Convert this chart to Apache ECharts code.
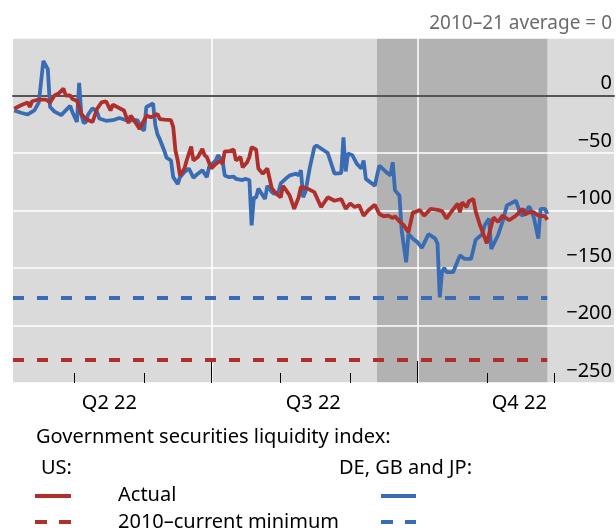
<!DOCTYPE html>
<html>
<head>
<meta charset="utf-8">
<script src="https://cdn.jsdelivr.net/npm/echarts@6/dist/echarts.min.js"></script>
<style>
  html, body { margin: 0; padding: 0; background: #fff; }
  #chart { width: 616px; height: 530px; }
</style>
</head>
<body>
<div id="chart"></div>
<script>
// US government securities liquidity index
var usDates = ['2022-04-04', '2022-04-07', '2022-04-10', '2022-04-11', '2022-04-12', '2022-04-15', '2022-04-18', '2022-04-20',
  '2022-04-22', '2022-04-24', '2022-04-26', '2022-04-27', '2022-04-29', '2022-04-30', '2022-05-02', '2022-05-04',
  '2022-05-06', '2022-05-09', '2022-05-11', '2022-05-13', '2022-05-15', '2022-05-17', '2022-05-18', '2022-05-20',
  '2022-05-23', '2022-05-25', '2022-05-26', '2022-05-28', '2022-05-30', '2022-06-01', '2022-06-02', '2022-06-04',
  '2022-06-07', '2022-06-08', '2022-06-10', '2022-06-13', '2022-06-14', '2022-06-15', '2022-06-16', '2022-06-17',
  '2022-06-19', '2022-06-20', '2022-06-22', '2022-06-23', '2022-06-25', '2022-06-27', '2022-06-28', '2022-06-29',
  '2022-07-01', '2022-07-03', '2022-07-05', '2022-07-06', '2022-07-07', '2022-07-09', '2022-07-11', '2022-07-12',
  '2022-07-14', '2022-07-15', '2022-07-17', '2022-07-18', '2022-07-19', '2022-07-21', '2022-07-22', '2022-07-24',
  '2022-07-26', '2022-07-28', '2022-07-30', '2022-08-01', '2022-08-02', '2022-08-04', '2022-08-05', '2022-08-07',
  '2022-08-09', '2022-08-10', '2022-08-13', '2022-08-16', '2022-08-19', '2022-08-22', '2022-08-25', '2022-08-28',
  '2022-08-30', '2022-09-01', '2022-09-03', '2022-09-05', '2022-09-07', '2022-09-09', '2022-09-12', '2022-09-14',
  '2022-09-16', '2022-09-18', '2022-09-20', '2022-09-21', '2022-09-23', '2022-09-25', '2022-09-27', '2022-09-29',
  '2022-09-30', '2022-10-02', '2022-10-04', '2022-10-07', '2022-10-10', '2022-10-12', '2022-10-14', '2022-10-16',
  '2022-10-19', '2022-10-20', '2022-10-21', '2022-10-23', '2022-10-24', '2022-10-26', '2022-10-27', '2022-10-29',
  '2022-11-01', '2022-11-02', '2022-11-04', '2022-11-06', '2022-11-08', '2022-11-11', '2022-11-14', '2022-11-17',
  '2022-11-18', '2022-11-20', '2022-11-22', '2022-11-24', '2022-11-27', '2022-11-28'];
var usValues = [-11.5, -8.5, -6, -10, -5, -3.5, -3.5, -6,
  0, 2, 6, 0, 0, -3, -4.5, -16,
  -20.5, -23, -11.5, -6, -5, -13, -8, -10,
  -13, -24, -17.5, -23, -29, -21.5, -17.5, -19,
  -16, -20.5, -21, -21.5, -27.5, -48, -56.5, -69.5,
  -63.5, -56.5, -44.5, -56.5, -53.5, -46.5, -52, -53.5,
  -63.5, -59.5, -56.5, -59.5, -48.5, -48.5, -47, -56.5,
  -53.5, -62.5, -58, -53.5, -45, -47, -63.5, -68,
  -63.5, -80.5, -85.5, -88.5, -78.5, -84, -87, -98.5,
  -88.5, -79.5, -81, -84, -97, -88.5, -91.5, -90,
  -98.5, -94, -97, -95.5, -104.5, -100, -95, -103,
  -105, -104.5, -106.5, -105, -109.5, -113, -119, -101.5,
  -101.5, -99.5, -104.5, -98.5, -99.5, -100.5, -107, -101.5,
  -94, -101.5, -93, -97, -92, -90, -100.5, -113,
  -128.5, -120.5, -106, -110, -104.5, -108.5, -104.5, -98.5,
  -103.5, -101.5, -101.5, -104.5, -105, -108];

// DE, GB and JP government securities liquidity index
var deDates = ['2022-04-04', '2022-04-07', '2022-04-10', '2022-04-13', '2022-04-15', '2022-04-17', '2022-04-19', '2022-04-20',
  '2022-04-22', '2022-04-25', '2022-04-27', '2022-04-29', '2022-04-30', '2022-05-02', '2022-05-03', '2022-05-04',
  '2022-05-05', '2022-05-06', '2022-05-07', '2022-05-09', '2022-05-11', '2022-05-12', '2022-05-15', '2022-05-18',
  '2022-05-21', '2022-05-24', '2022-05-26', '2022-05-29', '2022-05-31', '2022-06-01', '2022-06-02', '2022-06-05',
  '2022-06-06', '2022-06-07', '2022-06-08', '2022-06-10', '2022-06-11', '2022-06-13', '2022-06-14', '2022-06-16',
  '2022-06-17', '2022-06-19', '2022-06-21', '2022-06-23', '2022-06-25', '2022-06-27', '2022-06-29', '2022-06-30',
  '2022-07-03', '2022-07-04', '2022-07-06', '2022-07-07', '2022-07-09', '2022-07-11', '2022-07-12', '2022-07-15',
  '2022-07-16', '2022-07-18', '2022-07-19', '2022-07-20', '2022-07-21', '2022-07-22', '2022-07-25', '2022-07-26',
  '2022-07-28', '2022-07-29', '2022-07-31', '2022-08-01', '2022-08-04', '2022-08-05', '2022-08-08', '2022-08-09',
  '2022-08-10', '2022-08-11', '2022-08-12', '2022-08-14', '2022-08-16', '2022-08-17', '2022-08-22', '2022-08-25',
  '2022-08-28', '2022-08-29', '2022-08-30', '2022-08-31', '2022-09-02', '2022-09-04', '2022-09-06', '2022-09-07',
  '2022-09-08', '2022-09-12', '2022-09-14', '2022-09-17', '2022-09-19', '2022-09-20', '2022-09-21', '2022-09-23',
  '2022-09-24', '2022-09-26', '2022-09-27', '2022-09-29', '2022-10-01', '2022-10-03', '2022-10-06', '2022-10-09',
  '2022-10-10', '2022-10-11', '2022-10-12', '2022-10-13', '2022-10-14', '2022-10-17', '2022-10-20', '2022-10-22',
  '2022-10-25', '2022-10-27', '2022-10-30', '2022-10-31', '2022-11-02', '2022-11-03', '2022-11-06', '2022-11-08',
  '2022-11-10', '2022-11-14', '2022-11-16', '2022-11-17', '2022-11-20', '2022-11-22', '2022-11-24', '2022-11-25',
  '2022-11-27', '2022-11-28'];
var deValues = [-13, -15, -16.5, -13, -6, 30, 23, -10,
  -14, -17, -13, -9, -14.5, -23, 11, -17,
  -24, -23, -16.5, -11, -14.5, -20, -22, -21.5,
  -19.5, -21.5, -21.5, -21.5, -29, -30.5, -10, -7,
  -26, -34, -38, -48, -54, -56.5, -71, -77,
  -71, -66.5, -63.5, -71.5, -68, -65, -71, -62,
  -56.5, -52, -56.5, -69.5, -71, -70.5, -72.5, -73.5,
  -72.5, -73.5, -113, -88.5, -89, -81, -90, -78.5,
  -84, -85.5, -84, -76.5, -71, -69.5, -68, -69.5,
  -65, -88.5, -84, -62.5, -45, -43.5, -50, -68,
  -67.5, -36.5, -66, -50.5, -52, -59.5, -63.5, -56.5,
  -72.5, -78.5, -61, -66.5, -69.5, -58, -82.5, -87,
  -117.5, -145, -120.5, -124.5, -127.5, -132.5, -120.5, -124.5,
  -129, -175.5, -153.5, -150, -153.5, -153.5, -139, -142,
  -142, -125.5, -120.5, -113, -107, -133.5, -121.5, -110,
  -95.5, -91.5, -103, -104.5, -96.5, -106, -124.5, -98.5,
  -98.5, -103];

// 2010-current minimums
var usMinimum = -230;
var deMinimum = -176;

// shaded period
var stressStart = '2022-09-13';
var stressEnd = '2022-11-28';

// axes
var xStart = '2022-04-03T11:00:00Z';
var xEnd = '2022-12-27T19:00:00Z';
var monthTicks = ['2022-05-01', '2022-06-01', '2022-07-01', '2022-08-01', '2022-09-01', '2022-10-01', '2022-11-01', '2022-12-01'];
var quarterTicks = ['2022-07-01', '2022-10-01'];
var quarterMids = ['2022-05-16T12:00:00Z', '2022-08-15T12:00:00Z', '2022-11-15T12:00:00Z'];
var quarterLabels = ['Q2 22', 'Q3 22', 'Q4 22'];
var yMin = -250, yMax = 50, yStep = 50;

(function () {
  var chartDom = document.getElementById('chart');
  var myChart = echarts.init(chartDom, null, { renderer: 'canvas' });
  var font = '"Noto Sans", "Open Sans", sans-serif';
  var red = '#ae2f2c';
  var blue = '#3a6cb4';

  function t(d) { return Date.parse(d.length === 10 ? d + 'T00:00:00Z' : d); }
  function pairs(dates, values) {
    return dates.map(function (d, i) { return [t(d), values[i]]; });
  }
  var xMin = t(xStart), xMax = t(xEnd);
  var midTimes = quarterMids.map(t);

  function xBase(extra) {
    var a = {
      type: 'value', min: xMin, max: xMax, position: 'bottom', z: 1.5,
      axisLine: { show: false, onZero: false },
      axisTick: { show: false },
      axisLabel: { show: false },
      splitLine: { show: false }
    };
    for (var k in extra) a[k] = extra[k];
    return a;
  }

  var option = {
    animation: false,
    grid: {
      left: 13, right: 2, top: 38, bottom: 147,
      show: true, backgroundColor: '#dadada', borderWidth: 0
    },
    xAxis: [
      // month ticks + quarter labels
      xBase({
        axisTick: {
          show: true, inside: true, length: 10,
          customValues: monthTicks.map(t),
          lineStyle: { color: '#000', width: 1 }
        },
        axisLabel: {
          show: true, customValues: midTimes, margin: 10,
          color: '#000', fontSize: 20, fontFamily: font,
          formatter: function (v) {
            var i = midTimes.indexOf(v);
            return i >= 0 ? quarterLabels[i] : '';
          }
        }
      }),
      // quarter ticks + vertical gridlines
      xBase({
        axisTick: {
          show: true, inside: true, length: 22,
          customValues: quarterTicks.map(t),
          lineStyle: { color: '#000', width: 1 }
        },
        splitLine: { show: true, lineStyle: { color: '#fff', width: 1.5 } }
      }),
      // zero line
      xBase({
        axisLine: { show: true, onZero: true, lineStyle: { color: '#555', width: 2 } }
      })
    ],
    yAxis: {
      type: 'value', min: yMin, max: yMax, interval: yStep, position: 'right', z: 1.5,
      axisLine: { show: false },
      axisTick: { show: false },
      splitLine: { lineStyle: { color: '#fff', width: 1.5 } },
      axisLabel: {
        inside: true, margin: 2, color: '#000', fontSize: 20, fontFamily: font,
        verticalAlign: 'bottom', padding: [0, 0, 2, 0],
        formatter: function (v) {
          if (v > 0) return '';
          return v < 0 ? '\u2212' + Math.abs(v) : String(v);
        }
      }
    },
    series: [
      {
        name: 'US minimum', type: 'line', symbol: 'none', silent: true,
        data: [[xMin, usMinimum], [t(stressEnd), usMinimum]],
        lineStyle: { color: red, width: 4, type: [11, 13] },
        markArea: {
          silent: true, z: 1,
          itemStyle: { color: '#b2b2b2' },
          data: [[{ xAxis: t(stressStart) }, { xAxis: t(stressEnd) }]]
        }
      },
      {
        name: 'DE, GB and JP minimum', type: 'line', symbol: 'none', silent: true,
        data: [[xMin, deMinimum], [t(stressEnd), deMinimum]],
        lineStyle: { color: blue, width: 4, type: [11, 13] }
      },
      {
        name: 'DE, GB and JP', type: 'line', symbol: 'none',
        data: pairs(deDates, deValues),
        lineStyle: { color: blue, width: 3.8 }
      },
      {
        name: 'US', type: 'line', symbol: 'none',
        data: pairs(usDates, usValues),
        lineStyle: { color: red, width: 3.8 }
      }
    ],
    graphic: [
      { type: 'text', right: 4, top: 14, style: { text: '2010\u201321 average = 0', fill: '#6b6b6b', font: '19px ' + font } },
      { type: 'text', left: 36, top: 427, style: { text: 'Government securities liquidity index:', fill: '#000', font: '20px ' + font } },
      { type: 'text', left: 41, top: 458, style: { text: 'US:', fill: '#000', font: '20px ' + font } },
      { type: 'text', left: 339, top: 458, style: { text: 'DE, GB and JP:', fill: '#000', font: '20px ' + font } },
      { type: 'text', left: 118, top: 485, style: { text: 'Actual', fill: '#000', font: '20px ' + font } },
      { type: 'text', left: 118, top: 512, style: { text: '2010\u2013current minimum', fill: '#000', font: '20px ' + font } },
      { type: 'line', shape: { x1: 35, y1: 496, x2: 71, y2: 496 }, style: { stroke: red, lineWidth: 4 } },
      { type: 'line', shape: { x1: 381, y1: 496, x2: 416, y2: 496 }, style: { stroke: blue, lineWidth: 4 } },
      { type: 'line', shape: { x1: 35, y1: 522, x2: 71, y2: 522 }, style: { stroke: red, lineWidth: 4, lineDash: [12, 12] } },
      { type: 'line', shape: { x1: 381, y1: 522, x2: 416, y2: 522 }, style: { stroke: blue, lineWidth: 4, lineDash: [12, 12] } }
    ]
  };

  option && myChart.setOption(option);
})();
</script>
</body>
</html>
